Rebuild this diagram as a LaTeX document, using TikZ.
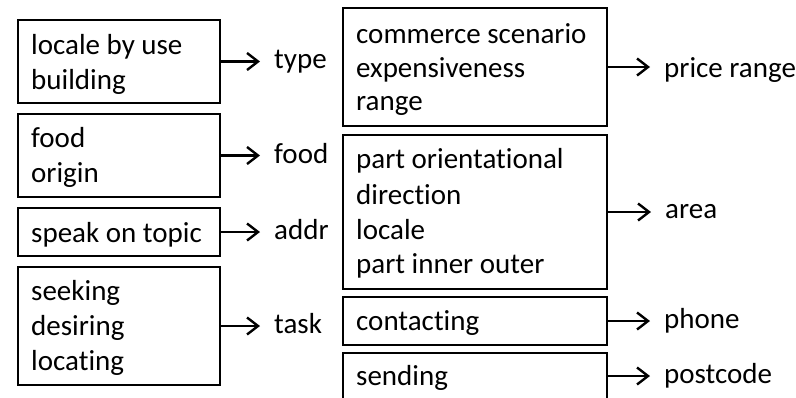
\documentclass[tikz,border=0pt]{standalone}
\usepackage{fontspec}
\setmainfont{Carlito}[Ligatures=NoCommon]
\usetikzlibrary{arrows.meta}

\begin{document}
\begin{tikzpicture}[x=1pt,y=-1pt,
  frame/.style={draw, line width=1.3pt, inner sep=0pt, outer sep=0pt,
    anchor=north west, rectangle},
  line/.style={inner sep=0pt, anchor=base west,
    font=\fontsize{29}{34.5}\selectfont},
  lbl/.style={inner sep=0pt, anchor=base west,
    font=\fontsize{29}{34.5}\selectfont},
  arr/.style={line width=2.4pt, shorten >=14pt,
    -{Straight Barb[length=11pt,width=17pt]}}]
\useasboundingbox (0,0) rectangle (796,397);

% left column of frames
\node[frame, minimum width=202pt, minimum height=83pt] (b1) at (18,20) {};
\node[frame, minimum width=202pt, minimum height=83pt] (b2) at (18,114) {};
\node[frame, minimum width=202pt, minimum height=48pt] (b3) at (18,208) {};
\node[frame, minimum width=202pt, minimum height=118pt] (b4) at (18,267) {};

\node[line] (b1a) at (31,54) {locale by use};
\node[line] (b1b) at (31,89) {building};
\node[line] (b2a) at (31,147) {food};
\node[line] (b2b) at (31,182) {origin};
\node[line] (b3a) at (31,242) {speak on topic};
\node[line] (b4a) at (31,300) {seeking};
\node[line] (b4b) at (31,335) {desiring};
\node[line] (b4c) at (31,370) {locating};

% slot names of the left column
\node[lbl] (ltype) at (274,68) {type};
\node[lbl] (lfood) at (274,163) {food};
\node[lbl] (laddr) at (274,239) {addr};
\node[lbl] (ltask) at (274,333) {task};

% right column of frames
\node[frame, minimum width=264pt, minimum height=118pt] (bA) at (343,8) {};
\node[frame, minimum width=264pt, minimum height=154pt] (bB) at (343,135) {};
\node[frame, minimum width=264pt, minimum height=48pt] (bC) at (343,297) {};
\node[frame, minimum width=264pt, minimum height=46pt] (bD) at (343,353) {};

\node[line] (bAa) at (356,43) {commerce scenario};
\node[line] (bAb) at (356,77) {expensiveness};
\node[line] (bAc) at (356,110) {range};
\node[line] (bBa) at (356,168) {part orientational};
\node[line] (bBb) at (356,204) {direction};
\node[line] (bBc) at (356,239) {locale};
\node[line] (bBd) at (356,273) {part inner outer};
\node[line] (bCa) at (356,330) {contacting};
\node[line] (bDa) at (356,385) {sending};

% slot names of the right column
\node[lbl] (lprice) at (664,77) {price range};
\node[lbl] (larea) at (665,218) {area};
\node[lbl] (lphone) at (664,328) {phone};
\node[lbl] (lpost) at (664,383) {postcode};

% arrows from frames to slots
\draw[arr] (b1.east) -- (b1.east -| ltype.west);
\draw[arr] (b2.east) -- (b2.east -| lfood.west);
\draw[arr] (b3.east) -- (b3.east -| laddr.west);
\draw[arr] (b4.east) -- (b4.east -| ltask.west);
\draw[arr] (bA.east) -- (bA.east -| lprice.west);
\draw[arr] (bB.east) -- (bB.east -| larea.west);
\draw[arr] (bC.east) -- (bC.east -| lphone.west);
\draw[arr] (bD.east) -- (bD.east -| lpost.west);
\end{tikzpicture}
\end{document}
